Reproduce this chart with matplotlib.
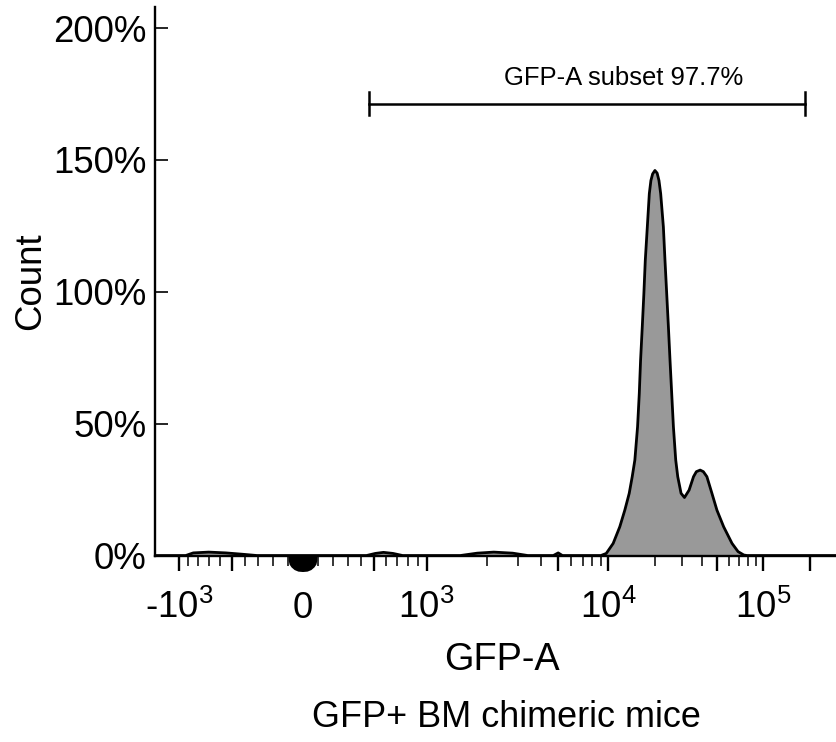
import numpy as np
import matplotlib
matplotlib.use("Agg")
import matplotlib.pyplot as plt
from matplotlib import font_manager as fm
from matplotlib.ticker import FixedLocator, NullFormatter

# the original uses a narrow Arial-like face; fall back to Liberation Sans
_names = {f.name for f in fm.fontManager.ttflist}
if "Liberation Sans Narrow" in _names:
    FONT, FS = "Liberation Sans Narrow", 1.0
else:
    FONT, FS = "Liberation Sans", 0.88
plt.rcParams["font.family"] = [FONT, "DejaVu Sans"]
plt.rcParams["mathtext.fontset"] = "custom"
plt.rcParams["mathtext.rm"] = FONT

# histogram outline (GFP-A value, % of max count)
hist_x = [-1340, -930, -850, -700, -550, -420, -310,
          440, 510, 577, 660, 750,
          1490, 1800, 2190, 2800, 3400,
          4700, 5000, 5300,
          9010, 9705, 10730, 11840, 12760, 13630, 14250, 14820, 15430,
          15830, 16140, 16550, 16950, 17310, 17840, 18380, 18820, 19310,
          19980, 20650, 21220, 21770, 22660, 23210, 23810, 24420, 25010,
          25650, 26310, 27230, 28060, 29480, 31010, 33220, 35480, 37010,
          39160, 41080, 43290, 46650, 50270, 55560, 62920, 68800, 74940,
          78700, 300000]
hist_y = [0, 0, 1.0, 1.3, 1.0, 0.5, 0,
          0, 0.8, 1.2, 0.8, 0,
          0, 0.9, 1.3, 0.9, 0,
          0, 1.0, 0,
          0, 0.8, 4.6, 10.9, 17.2, 23.6, 29.9, 36.2, 48.8,
          61.4, 74.1, 86.7, 99.3, 111.9, 124.6, 137.2, 142.2, 144.7,
          146.0, 145.0, 142.2, 137.2, 124.6, 111.9, 99.3, 86.7, 74.1,
          61.4, 48.8, 36.2, 29.9, 23.6, 22.0, 24.8, 29.9, 31.8,
          32.4, 31.8, 29.9, 23.6, 17.2, 10.9, 4.6, 1.5, 0.2,
          0, 0]

# pile-up of events at zero drawn below the axis
zero_x = [-95, -94, -88, -75, -55, -30, 0, 30, 55, 75, 88, 94, 95]
zero_y = [0, -1.9, -3.4, -4.5, -5.5, -6.1, -6.25,
          -6.1, -5.5, -4.5, -3.4, -1.9, 0]

gate_lo, gate_hi, gate_y = 460, 187000, 171.4
gate_label = "GFP-A subset 97.7%"

y_ticks = [0, 50, 100, 150, 200]
x_major = [-1000, -500, 0, 500, 1000, 5000, 10000, 50000, 100000, 200000]
x_minor = ([-v for v in range(100, 1000, 100) if v != 500]
           + [v for v in range(100, 1000, 100) if v != 500]
           + [v * 1000 for v in range(2, 10) if v != 5]
           + [v * 10000 for v in range(2, 10) if v != 5])
x_labels = {-1000: r"-$\mathregular{10^3}$", 0: "0",
            1000: r"$\mathregular{10^3}$", 10000: r"$\mathregular{10^4}$",
            100000: r"$\mathregular{10^5}$"}

# biexponential display calibration (value -> display units)
anch_u = np.arcsinh(np.array([0, 1e3, 2e3, 5e3, 1e4, 1e5, 1e7]) / 700.0)
anch_p = np.array([0, 123, 183, 254, 304, 458, 766], float)


def fwd(x):
    u = np.arcsinh(np.asarray(x, float) / 700.0)
    return np.sign(u) * np.interp(np.abs(u), anch_u, anch_p)


def inv(p):
    p = np.asarray(p, float)
    u = np.sign(p) * np.interp(np.abs(p), anch_p, anch_u)
    return 700.0 * np.sinh(u)


fig = plt.figure(figsize=(8.37, 7.42), dpi=100)
ax = fig.add_axes([0.1852, 0.2513, 0.8148, 0.7393])
ax.set_xscale("function", functions=(fwd, inv))
ax.set_xlim(-1340, 300000)
ax.set_ylim(0, 208)

ax.fill_between(hist_x, hist_y, 0, color="#999999", lw=0, zorder=2)
ax.plot(hist_x, hist_y, color="black", lw=2, zorder=3,
        solid_joinstyle="round", solid_capstyle="round")
ax.fill(zero_x, zero_y, color="black", lw=0, clip_on=False, zorder=4)

ax.plot([gate_lo, gate_hi], [gate_y, gate_y], color="black", lw=1.8)
for gx in (gate_lo, gate_hi):
    ax.plot([gx, gx], [gate_y - 4.2, gate_y + 4.2], color="black", lw=1.8)
ax.text(12500, 178.6, gate_label, ha="center", va="baseline", fontsize=21 * FS)

for s in ("top", "right"):
    ax.spines[s].set_visible(False)
for s in ("left", "bottom"):
    ax.spines[s].set_linewidth(1.7)

ax.set_yticks(y_ticks)
ax.set_yticklabels([f"{v}%" for v in y_ticks], fontsize=30 * FS)
ax.tick_params(axis="y", direction="in", length=9.5, width=1.2, pad=6)

ax.xaxis.set_major_locator(FixedLocator(x_major))
ax.xaxis.set_minor_locator(FixedLocator(x_minor))
ax.xaxis.set_major_formatter(NullFormatter())
ax.xaxis.set_minor_formatter(NullFormatter())
ax.tick_params(axis="x", which="major", direction="out", length=11, width=1.7)
ax.tick_params(axis="x", which="minor", direction="out", length=7, width=1.1)

for v, lab in x_labels.items():
    ax.text(v, -0.114, lab, transform=ax.get_xaxis_transform(),
            ha="center", va="baseline", fontsize=30 * FS)

ax.set_ylabel("Count", fontsize=30 * FS)
ax.yaxis.set_label_coords(-0.157, 0.5)
ax.set_xlabel("GFP-A", fontsize=31 * FS)
ax.xaxis.set_label_coords(0.509, -0.158)
ax.text(0.515, -0.3127, "GFP+ BM chimeric mice", transform=ax.transAxes,
        ha="center", va="baseline", fontsize=29.5 * FS)

fig.savefig("out.png", dpi=100)
